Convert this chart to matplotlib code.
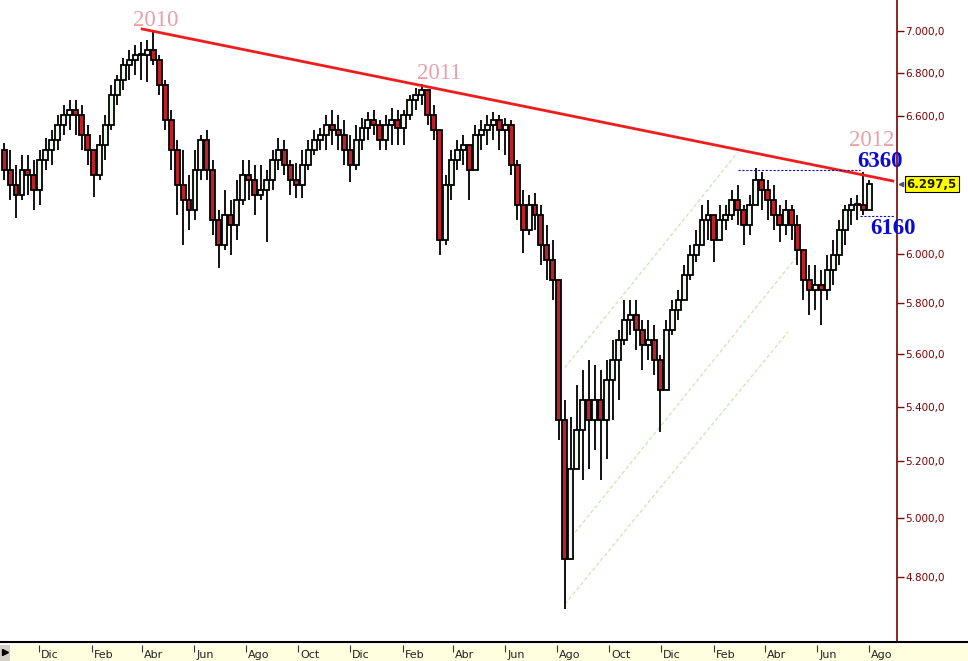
import matplotlib.pyplot as plt
import matplotlib.dates as mdates
from matplotlib.patches import Rectangle
from matplotlib.lines import Line2D
import pandas as pd

# weekly bars (Oct 2009 - Jul 2012)
weeks = pd.date_range('2009-10-21', periods=146, freq='7D')

opens = [6447, 6359, 6294, 6250, 6359, 6337, 6272, 6403, 6447, 6492,
         6560, 6605, 6628, 6605, 6514, 6447, 6337, 6470, 6560, 6697,
         6767, 6837, 6861, 6885, 6885, 6909, 6861, 6744, 6582, 6447,
         6294, 6229, 6186, 6359, 6492, 6359, 6143, 6038, 6164, 6122,
         6229, 6337, 6315, 6250, 6272, 6315, 6403, 6447, 6381, 6315,
         6294, 6381, 6447, 6492, 6514, 6560, 6537, 6514, 6447, 6381,
         6492, 6546, 6582, 6560, 6492, 6560, 6582, 6546, 6605, 6674,
         6697, 6720, 6605, 6537, 6059, 6294, 6403, 6447, 6470, 6359,
         6514, 6537, 6560, 6582, 6537, 6560, 6381, 6207, 6101, 6207,
         6164, 6038, 5976, 5894, 5351, 4859, 5170, 5314, 5425, 5351,
         5425, 5351, 5501, 5577, 5655, 5733, 5753, 5694, 5635, 5655,
         5577, 5463, 5694, 5773, 5813, 5915, 5997, 6038, 6143, 6164,
         6059, 6143, 6164, 6229, 6186, 6122, 6207, 6315, 6272, 6229,
         6164, 6122, 6186, 6122, 6017, 5894, 5853, 5874, 5853, 5935,
         5997, 6101, 6186, 6207, 6207, 6186]
highs = [6478, 6447, 6381, 6425, 6425, 6403, 6447, 6501, 6537, 6605,
         6651, 6674, 6674, 6651, 6560, 6447, 6514, 6605, 6744, 6791,
         6871, 6909, 6933, 6947, 6957, 7000, 6885, 6767, 6628, 6492,
         6447, 6337, 6447, 6514, 6537, 6403, 6186, 6272, 6229, 6315,
         6403, 6403, 6381, 6381, 6359, 6447, 6501, 6492, 6403, 6390,
         6447, 6492, 6537, 6546, 6605, 6628, 6605, 6582, 6514, 6560,
         6591, 6619, 6628, 6582, 6605, 6637, 6628, 6628, 6697, 6730,
         6749, 6697, 6651, 6492, 6337, 6447, 6492, 6514, 6447, 6560,
         6582, 6605, 6619, 6605, 6591, 6582, 6403, 6272, 6250, 6259,
         6207, 6122, 6059, 5813, 5425, 5362, 5482, 5539, 5577, 5558,
         5539, 5577, 5655, 5694, 5813, 5813, 5813, 5733, 5733, 5714,
         5597, 5733, 5813, 5853, 5955, 6038, 6101, 6207, 6229, 6164,
         6207, 6207, 6272, 6294, 6207, 6250, 6368, 6350, 6315, 6294,
         6207, 6229, 6207, 6164, 6017, 5955, 5955, 5935, 5997, 6059,
         6143, 6207, 6237, 6250, 6350, 6315]
lows = [6315, 6229, 6152, 6229, 6250, 6186, 6207, 6359, 6381, 6447,
        6514, 6537, 6514, 6447, 6381, 6242, 6315, 6403, 6537, 6651,
        6720, 6767, 6791, 6767, 6758, 6837, 6697, 6537, 6359, 6164,
        6038, 6101, 6143, 6315, 6315, 6080, 5943, 6017, 5997, 6059,
        6207, 6229, 6164, 6229, 6051, 6272, 6359, 6337, 6250, 6237,
        6237, 6359, 6425, 6447, 6447, 6470, 6447, 6381, 6306, 6359,
        6447, 6492, 6514, 6447, 6447, 6470, 6470, 6470, 6582, 6628,
        6651, 6560, 6492, 5997, 6038, 6229, 6359, 6381, 6229, 6403,
        6447, 6470, 6492, 6447, 6425, 6337, 6143, 6005, 6080, 6101,
        5955, 5894, 5813, 5278, 4694, 4859, 5170, 5134, 5170, 5241,
        5134, 5206, 5351, 5425, 5635, 5674, 5616, 5539, 5577, 5520,
        5307, 5463, 5674, 5733, 5813, 5894, 5968, 6038, 6059, 5968,
        6059, 6101, 6143, 6122, 6038, 6080, 6207, 6186, 6143, 6101,
        6051, 6080, 6059, 5955, 5813, 5753, 5773, 5714, 5813, 5874,
        5955, 6038, 6122, 6143, 6164, 6207]
closes = [6359, 6294, 6250, 6359, 6337, 6272, 6403, 6447, 6492, 6560,
          6605, 6628, 6605, 6514, 6447, 6337, 6470, 6560, 6697, 6767,
          6837, 6861, 6885, 6885, 6909, 6861, 6744, 6582, 6447, 6294,
          6229, 6186, 6359, 6492, 6359, 6143, 6038, 6164, 6122, 6229,
          6337, 6315, 6250, 6272, 6315, 6403, 6447, 6381, 6315, 6294,
          6381, 6447, 6492, 6514, 6560, 6537, 6514, 6447, 6381, 6492,
          6546, 6582, 6560, 6492, 6560, 6582, 6546, 6605, 6674, 6697,
          6720, 6605, 6537, 6059, 6294, 6403, 6447, 6470, 6359, 6514,
          6537, 6560, 6582, 6537, 6560, 6381, 6207, 6101, 6207, 6164,
          6038, 5976, 5894, 5351, 4859, 5170, 5314, 5425, 5351, 5425,
          5351, 5501, 5577, 5655, 5733, 5753, 5694, 5635, 5655, 5577,
          5463, 5694, 5773, 5813, 5915, 5997, 6038, 6143, 6164, 6059,
          6143, 6164, 6229, 6186, 6122, 6207, 6315, 6272, 6229, 6164,
          6122, 6186, 6122, 6017, 5894, 5853, 5874, 5853, 5935, 5997,
          6101, 6186, 6207, 6207, 6186, 6297.5]

# drawn lines (date, price)
trend_dates = ['2010-04-01', '2012-08-29']
trend_prices = [7010, 6311]
res_dates = ['2012-02-29', '2012-07-21']
res_price = 6360
sup_dates = ['2012-07-21', '2012-08-31']
sup_price = 6160
channel_dates = [['2011-08-10', '2012-02-29'],
                 ['2011-08-22', '2012-05-08'],
                 ['2011-08-10', '2012-04-28']]
channel_prices = [[5547, 6438], [4950, 5988], [4710, 5686]]

# text labels (date, price at baseline)
year_labels = ['2010', '2011', '2012']
year_dates = ['2010-04-17', '2011-03-15', '2012-08-04']
year_prices = [7024, 6772, 6466]
level_labels = ['6360', '6160']
level_dates = ['2012-08-14', '2012-08-29']
level_prices = [6372, 6084]

price_ticks = [4800, 5000, 5200, 5400, 5600, 5800, 6000, 6600, 6800, 7000]
month_ticks = ['2009-12-01', '2010-02-01', '2010-04-01', '2010-06-01', '2010-08-01',
               '2010-10-01', '2010-12-01', '2011-02-01', '2011-04-01', '2011-06-01',
               '2011-08-01', '2011-10-01', '2011-12-01', '2012-02-01', '2012-04-01',
               '2012-06-01', '2012-08-01']
month_labels = ['Dic', 'Feb', 'Abr', 'Jun', 'Ago', 'Oct'] * 2 + ['Dic', 'Feb', 'Abr', 'Jun', 'Ago']

W, H = 968, 661
fig = plt.figure(figsize=(W / 100, H / 100), dpi=100)
ax = fig.add_axes([0, 20 / H, 897 / W, 641 / H])

x = mdates.date2num(weeks)
for xi, o, h, l, c in zip(x, opens, highs, lows, closes):
    ax.vlines(xi, min(l, o, c), max(h, o, c), color='black', lw=1.3, zorder=2)
    col = '#c0202a' if c < o else '#eef8ee'
    ax.add_patch(Rectangle((xi - 2.9, min(o, c)), 5.8, max(abs(c - o), 5),
                           facecolor=col, edgecolor='black', lw=1.3, zorder=3))

d2n = lambda ds: mdates.date2num(pd.to_datetime(ds))
ax.plot(d2n(trend_dates), trend_prices, color='#ee1c1c', lw=2, zorder=4)
ax.plot(d2n(res_dates), [res_price] * 2, color='#1010c0', lw=0.8, ls=(0, (2, 1.5)), zorder=4)
ax.plot(d2n(sup_dates), [sup_price] * 2, color='#1010c0', lw=0.8, ls=(0, (2, 1.5)), zorder=4,
        clip_on=False)
for cd, cp in zip(channel_dates, channel_prices):
    ax.plot(d2n(cd), cp, color='#c8e6b4', lw=0.9, ls=(0, (3, 2)), zorder=1)

ax.set_yscale('log')
ax.set_ylim(4592, 7152)
x0 = mdates.date2num(pd.Timestamp('2009-10-21'))
ax.set_xlim(x0 - 4.8, x0 + 1047.8)
ax.yaxis.tick_right()
ax.minorticks_off()
ax.set_yticks(price_ticks)
ax.set_yticklabels([f'{p:,.1f}'.replace(',', 'X').replace('.', ',').replace('X', '.')
                    for p in price_ticks])
ax.tick_params(axis='y', direction='out', length=5, width=1, color='#7a0000',
               labelcolor='#7a0000', labelsize=7.5, pad=1)
ax.set_xticks([])
for s in ['top', 'left', 'bottom']:
    ax.spines[s].set_visible(False)
ax.spines['right'].set_color('#7a0000')
ax.spines['right'].set_linewidth(1.2)

# year labels and levels
for t, d, p in zip(year_labels, year_dates, year_prices):
    ax.text(d2n(d), p, t, color='#e8a0a8', fontsize=16.5, family='Liberation Serif',
            ha='center', va='baseline', zorder=5)
for t, d, p in zip(level_labels, level_dates, level_prices):
    ax.text(d2n(d), p, t, color='#0a0ad0', fontsize=16.5, family='Liberation Serif',
            weight='bold', ha='center', va='baseline', clip_on=False, zorder=5)

# last price box
ax.annotate('6.297,5', xy=(1.0, closes[-1]), xycoords=('axes fraction', 'data'),
            xytext=(7, 0), textcoords='offset points', va='center', ha='left',
            fontsize=8.5, weight='bold', color='#202000', family='DejaVu Sans',
            bbox=dict(boxstyle='square,pad=0.15', fc='#ffff00', ec='black', lw=0.8),
            annotation_clip=False)
ax.plot([1.004], [closes[-1]], marker='<', ms=3, color='#555555',
        transform=ax.get_yaxis_transform(), clip_on=False)

# bottom date strip
fig.add_artist(Line2D([0, 1], [19 / H, 19 / H], color='black', lw=1.5))
bx = fig.add_axes([0, 0, 1, 16 / H])
bx.set_facecolor('#ffffe0')
bx.set_xlim(x0 - 4.8, x0 - 4.8 + 968 / 0.8522)
bx.set_ylim(0, 1)
bx.set_xticks([])
bx.set_yticks([])
for s in bx.spines.values():
    s.set_visible(False)
for md, ml in zip(month_ticks, month_labels):
    xm = d2n(md)
    bx.vlines(xm, 0.55, 1.0, color='#333333', lw=0.8)
    bx.text(xm + 2.5, 0.66, ml, fontsize=8, color='#222222', va='top', ha='left',
            family='DejaVu Sans')
fig.add_artist(Rectangle((0, 0), 10 / W, 16 / H, transform=fig.transFigure,
                         facecolor='#d4d0c8', edgecolor='none'))
fig.add_artist(Line2D([5 / W], [9 / H], marker='>', ms=4, color='black'))

plt.savefig('out.png', dpi=100)
